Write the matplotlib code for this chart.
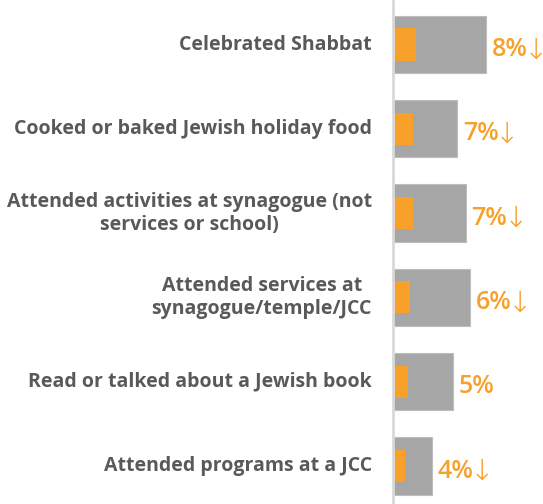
import numpy as np
import matplotlib.pyplot as plt

# categories, top to bottom
categories = [
    'Celebrated Shabbat',
    'Cooked or baked Jewish holiday food',
    'Attended activities at synagogue (not\nservices or school)',
    'Attended services at\nsynagogue/temple/JCC',
    'Read or talked about a Jewish book',
    'Attended programs at a JCC',
]
current = [8, 7, 7, 6, 5, 4]          # orange bars
previous = [32, 22, 25, 26.5, 20.7, 13.4]  # gray bars (earlier level)
labels = ['8%', '7%', '7%', '6%', '5%', '4%']
declined = [True, True, True, True, False, True]

Gray = '#A6A6A6'
Orange = '#F7A12B'
TextGray = '#595959'

fig = plt.figure(figsize=(5.43, 5.04), dpi=100)
ax = fig.add_axes([393/543, 0, 150/543, 1])

y = np.arange(len(categories))
ax.barh(y, previous, height=0.68, color=Gray, edgecolor='#BDBDBD', linewidth=0.8)
ax.barh(y, current, height=0.38, color=Orange)

ax.set_xlim(0, 51.7)
ax.set_ylim(5.45, -0.528)

for s in ['top', 'right', 'bottom']:
    ax.spines[s].set_visible(False)
ax.spines['left'].set_color('#D9D9D9')
ax.spines['left'].set_linewidth(2)
ax.set_xticks([])
ax.set_yticks([])

fig.canvas.draw()
renderer = fig.canvas.get_renderer()

for i, cat in enumerate(categories):
    ax.annotate(cat, xy=(0, i), xytext=(-21, 0), textcoords='offset pixels',
                ha='right', va='center', multialignment='center',
                fontsize=14, fontweight='bold', color=TextGray,
                family=['Open Sans', 'DejaVu Sans'], linespacing=1.2)
    num = ax.annotate(labels[i], xy=(previous[i], i), xytext=(6, -5),
                      textcoords='offset pixels', ha='left', va='center',
                      fontsize=18, fontweight='semibold', color=Orange,
                      family=['Open Sans', 'DejaVu Sans'])
    if declined[i]:
        w = num.get_window_extent(renderer).width
        ax.annotate('\u2193', xy=(previous[i], i), xytext=(6 + w - 4, -6),
                    textcoords='offset pixels', ha='left', va='center',
                    fontsize=21, fontweight='light', color=Orange,
                    family=['DejaVu Sans'])

plt.savefig('out.png', dpi=100)
